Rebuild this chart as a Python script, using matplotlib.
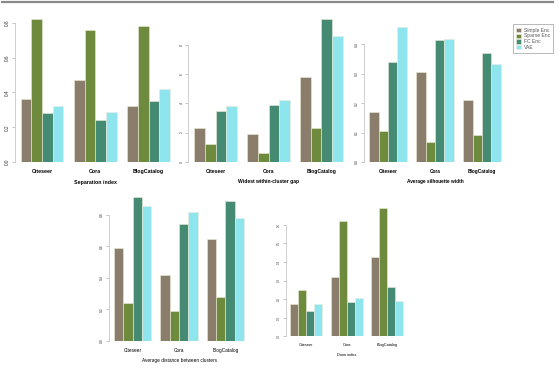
# grouped bar panels: clustering quality of encoders

import numpy as np
import matplotlib.pyplot as plt
from matplotlib.lines import Line2D

plt.rcParams['font.family'] = ['Liberation Sans', 'DejaVu Sans']

datasets = ['Citeseer', 'Cora', 'BlogCatalog']
methods = ['Simple Enc', 'Sparse Enc', 'FC Enc', 'VAE']
colors = ['#8B7D6B', '#6E8B3D', '#458B74', '#8EE5EE']

# one list per method, values per dataset
sep_simple = [0.36, 0.47, 0.32]
sep_sparse = [0.82, 0.76, 0.78]
sep_fc = [0.28, 0.24, 0.35]
sep_vae = [0.32, 0.29, 0.42]

gap_simple = [2.3, 1.9, 5.8]
gap_sparse = [1.2, 0.6, 2.3]
gap_fc = [3.5, 3.9, 9.8]
gap_vae = [3.8, 4.2, 8.6]

sil_simple = [0.170, 0.305, 0.210]
sil_sparse = [0.104, 0.069, 0.091]
sil_fc = [0.340, 0.415, 0.371]
sil_vae = [0.459, 0.419, 0.334]

dist_simple = [0.588, 0.420, 0.648]
dist_sparse = [0.238, 0.192, 0.280]
dist_fc = [0.914, 0.742, 0.890]
dist_vae = [0.860, 0.820, 0.778]

dunn_simple = [0.175, 0.317, 0.426]
dunn_sparse = [0.247, 0.618, 0.690]
dunn_fc = [0.136, 0.186, 0.267]
dunn_vae = [0.175, 0.206, 0.188]

sep_ticks = [0.0, 0.2, 0.4, 0.6, 0.8]
gap_ticks = [0, 2, 4, 6, 8]
sil_ticks = [0.0, 0.1, 0.2, 0.3, 0.4]
dist_ticks = [0.0, 0.2, 0.4, 0.6, 0.8]
dunn_ticks = [0.0, 0.1, 0.2, 0.3, 0.4, 0.5, 0.6]

W, H = 559, 370
fig = plt.figure(figsize=(W / 100, H / 100), dpi=100)
fig.patch.set_facecolor('white')

# grey rule along the top
fig.add_artist(Line2D([2 / W, 553 / W], [1 - 1.5 / H, 1 - 1.5 / H],
                      color='#8a8a8a', lw=1.6))


def panel(box, series, ticks, ytop, title, fs_lab, fs_tick, bold=False):
    left, right, top, bottom = box
    ax = fig.add_axes([left / W, 1 - bottom / H, (right - left) / W,
                       (bottom - top) / H])
    bars = []
    for j, vals in enumerate(series):
        x = np.arange(len(datasets)) * 5 + 1.5 + j
        b = ax.bar(x, vals, width=1, color=colors[j], edgecolor='#ecebd8',
                   linewidth=0.4)
        bars.append(b)
    ax.set_xlim(0.44, 15.56)
    ax.set_ylim(0, ytop)
    for s in ['top', 'right', 'bottom']:
        ax.spines[s].set_visible(False)
    ax.spines['left'].set_color('#c8c8c8')
    ax.spines['left'].set_linewidth(0.6)
    ax.spines['left'].set_bounds(ticks[0], ticks[-1])
    ax.set_yticks(ticks)
    ax.set_yticklabels([('%g' % t) if isinstance(t, int) else '%.1f' % t
                        for t in ticks], rotation=90, va='center',
                       fontsize=fs_tick, color='#333333')
    ax.tick_params(axis='y', length=2, width=0.4, color='#999999', pad=1.5)
    ax.set_xticks(np.arange(len(datasets)) * 5 + 3)
    ax.set_xticklabels(datasets, fontsize=fs_lab,
                       fontweight='bold' if bold else 'normal')
    ax.tick_params(axis='x', length=0, pad=5)
    ax.set_xlabel(title, fontsize=fs_lab,
                  fontweight='bold' if bold else 'normal', labelpad=4)
    return ax, bars


ax1, bars = panel((14.7, 175.8, 15, 162.3),
                  [sep_simple, sep_sparse, sep_fc, sep_vae],
                  sep_ticks, 0.844, 'Separation index', 3.8, 3.4, bold=True)
panel((188.4, 348.6, 15, 161.7), [gap_simple, gap_sparse, gap_fc, gap_vae],
      gap_ticks, 10.06, 'Widest within-cluster gap', 3.6, 2.4, bold=True)
ax3, _ = panel((364.0, 506.0, 15, 162.0),
               [sil_simple, sil_sparse, sil_fc, sil_vae],
               sil_ticks, 0.4996, 'Average silhouette width', 3.4, 2.4,
               bold=True)
panel((108.8, 249.2, 193, 340.7),
      [dist_simple, dist_sparse, dist_fc, dist_vae],
      dist_ticks, 0.94, 'Average distance between clusters', 3.4, 2.4)
panel((285.5, 407.9, 205, 336.3),
      [dunn_simple, dunn_sparse, dunn_fc, dunn_vae],
      dunn_ticks, 0.706, 'Dunn index', 2.8, 2.0)

leg = fig.legend([b[0] for b in bars], methods, loc='upper left',
                 bbox_to_anchor=(510 / W, 1 - 21.7 / H), fontsize=3.6,
                 frameon=True, fancybox=False, handlelength=0.9,
                 handleheight=0.9, handletextpad=0.6, borderpad=0.7,
                 labelspacing=0.15)
leg.get_frame().set_edgecolor('#999999')
leg.get_frame().set_linewidth(0.6)
for t in leg.get_texts():
    t.set_color('#555555')

fig.savefig('out.png', dpi=100)
